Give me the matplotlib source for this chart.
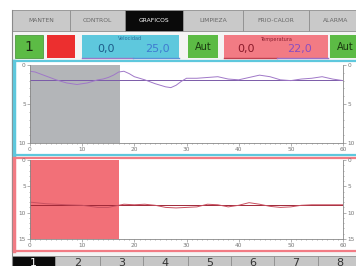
import matplotlib
matplotlib.use('Agg')
import matplotlib.pyplot as plt
from matplotlib.patches import Rectangle
from matplotlib.ticker import MultipleLocator

W, H = 356, 266

# top menu
tabs_top = ['MANTEN', 'CONTROL', 'GRAFICOS', 'LIMPIEZA', 'FRIO-CALOR', 'ALARMA']
tab_edges = [12, 70, 125, 183, 243, 309, 362]
active_top = 'GRAFICOS'

# bottom page selector
tabs_bottom = ['1', '2', '3', '4', '5', '6', '7', '8']
bottom_edges = [12, 55, 100, 143, 188, 231, 274, 318, 362]

# velocidad trace (upper chart, 0..10 inverted)
vel_t = [0, 1, 3, 5, 7, 9, 11, 13, 14, 15, 16, 17, 18, 19, 20, 22, 24, 26, 27,
         28, 29, 30, 32, 34, 36, 38, 40, 42, 44, 46, 48, 50, 52, 54, 56, 58, 60]
vel = [0.8, 0.9, 1.4, 1.9, 2.3, 2.5, 2.3, 1.9, 1.8, 1.6, 1.3, 0.9, 0.8, 1.1, 1.5,
       1.9, 2.4, 2.8, 2.9, 2.6, 2.1, 1.7, 1.7, 1.6, 1.5, 1.8, 1.9, 1.6, 1.3, 1.5,
       1.9, 2.0, 1.8, 1.7, 1.5, 1.8, 2.0]
vel_set = 1.9
vel_hold = 17.2

# temperatura trace (lower chart, 0..15 inverted)
temp_t = [0, 3, 7, 10, 13, 15, 17, 18, 20, 22, 24, 26, 28, 30, 32, 34, 36, 38,
          40, 42, 44, 46, 48, 50, 52, 54, 60]
temp = [8.0, 8.3, 8.5, 8.6, 9.0, 9.0, 8.6, 8.4, 8.5, 8.4, 8.6, 9.0, 9.1, 9.0,
        8.9, 8.4, 8.5, 8.9, 8.6, 8.1, 8.4, 8.8, 9.0, 8.9, 8.6, 8.5, 8.5]
temp_set = 8.5
temp_hold = 17.0


def rect(x0, y0, x1, y1):
    return [x0 / W, 1 - y1 / H, (x1 - x0) / W, (y1 - y0) / H]


def box(ax, x0, y0, x1, y1, fc, ec='none', lw=0):
    ax.add_patch(Rectangle((x0, y0), x1 - x0, y1 - y0, facecolor=fc,
                           edgecolor=ec, linewidth=lw))


def draw_chart(ax, t, y, setpoint, hold, ymax, yticks, shade, line_c, set_c):
    ax.axvspan(0, hold, color=shade, lw=0)
    ax.axhline(setpoint, color=set_c, lw=0.7)
    ax.plot(t, y, color=line_c, lw=0.7)
    ax.set_xlim(0, 60)
    ax.set_ylim(ymax, 0)
    ax.set_xticks(range(0, 61, 10))
    ax.set_yticks(yticks)
    ax.xaxis.set_minor_locator(MultipleLocator(1))
    ax.yaxis.set_minor_locator(MultipleLocator(1))
    ax.tick_params(which='both', labelsize=4.2, colors='#777777', width=0.4,
                   right=True, labelright=True, pad=1)
    ax.tick_params(which='major', length=2)
    ax.tick_params(which='minor', length=1)
    for s in ['left', 'right', 'bottom']:
        ax.spines[s].set_color('#888888')
        ax.spines[s].set_linewidth(0.6)
    ax.spines['top'].set_visible(False)


fig = plt.figure(figsize=(W / 100, H / 100), dpi=100)
ui = fig.add_axes([0, 0, 1, 1])
ui.set_xlim(0, W)
ui.set_ylim(H, 0)
ui.axis('off')

# panel background
box(ui, 12, 10, W, H, '#f4f4f4')
ui.plot([11.5, 11.5], [10, H], color='#8a8a8a', lw=0.8)

# top tabs
for name, a, b in zip(tabs_top, tab_edges[:-1], tab_edges[1:]):
    on = name == active_top
    box(ui, a, 10, b, 31, '#0a0a0a' if on else '#c9c9c9', '#8f8f8f', 0.6)
    ui.text((a + b) / 2, 21, name, ha='center', va='center', fontsize=4.3,
            color='white' if on else '#666666')

# status row
box(ui, 15, 35, 43, 58, '#5cbb45', '#3e8f30', 0.5)
ui.text(29, 47, '1', ha='center', va='center', fontsize=10, color='#1a2a10')
box(ui, 47, 35, 75, 58, '#ec2f2f')
box(ui, 82, 35, 179, 58, '#5ec8dd')
ui.plot([82, 133], [58, 58], color='#9a78c8', lw=1)
ui.plot([133, 179], [58, 58], color='#5b90d8', lw=1)
ui.text(130, 39, 'Velocidad', ha='center', va='center', fontsize=3.6,
        color='#2a6f9a')
ui.text(106, 49, '0,0', ha='center', va='center', fontsize=8, color='#1d5c8a')
ui.text(157, 49, '25,0', ha='center', va='center', fontsize=8, color='#3f7bd0')
box(ui, 188, 35, 218, 58, '#5cbb45')
ui.text(203, 47, 'Aut', ha='center', va='center', fontsize=7, color='#1a3a10')
box(ui, 224, 35, 328, 58, '#f27b84')
ui.plot([224, 277], [58, 58], color='#c04050', lw=1)
ui.plot([277, 328], [58, 58], color='#9a70c8', lw=1)
ui.text(276, 39, 'Temperatura', ha='center', va='center', fontsize=3.6,
        color='#8a2030')
ui.text(246, 49, '0,0', ha='center', va='center', fontsize=8, color='#8a1a2a')
ui.text(299, 49, '22,0', ha='center', va='center', fontsize=8, color='#8a4ec0')
box(ui, 330, 35, 362, 58, '#5cbb45')
ui.text(345, 47, 'Aut', ha='center', va='center', fontsize=7, color='#1a3a10')

# chart frames
box(ui, 13, 61, 362, 154.5, 'white', '#5ec8dd', 1.6)
ui.plot([13.5, 13.5], [61, 154.5], color='#5ec8dd', lw=2.5)
box(ui, 13, 158, 362, 251, 'white', '#f27b84', 1.6)
ui.plot([13.5, 13.5], [158, 251], color='#f27b84', lw=2.5)

# bottom page tabs
for name, a, b in zip(tabs_bottom, bottom_edges[:-1], bottom_edges[1:]):
    on = name == '1'
    box(ui, a, 256, b, 270, '#0a0a0a' if on else '#c6c6c6', '#8f8f8f', 0.6)
    ui.text((a + b) / 2, 257.5, name, ha='center', va='top', fontsize=8,
            color='white' if on else '#333333')

ax1 = fig.add_axes(rect(30, 65, 343, 143))
draw_chart(ax1, vel_t, vel, vel_set, vel_hold, 10, [0, 5, 10],
           '#b3b5b8', '#a078c8', '#7a5aa8')

ax2 = fig.add_axes(rect(30, 160, 343, 239))
draw_chart(ax2, temp_t, temp, temp_set, temp_hold, 15, [0, 5, 10, 15],
           '#f27078', '#c85060', '#a02838')

fig.savefig('out.png', dpi=100)
